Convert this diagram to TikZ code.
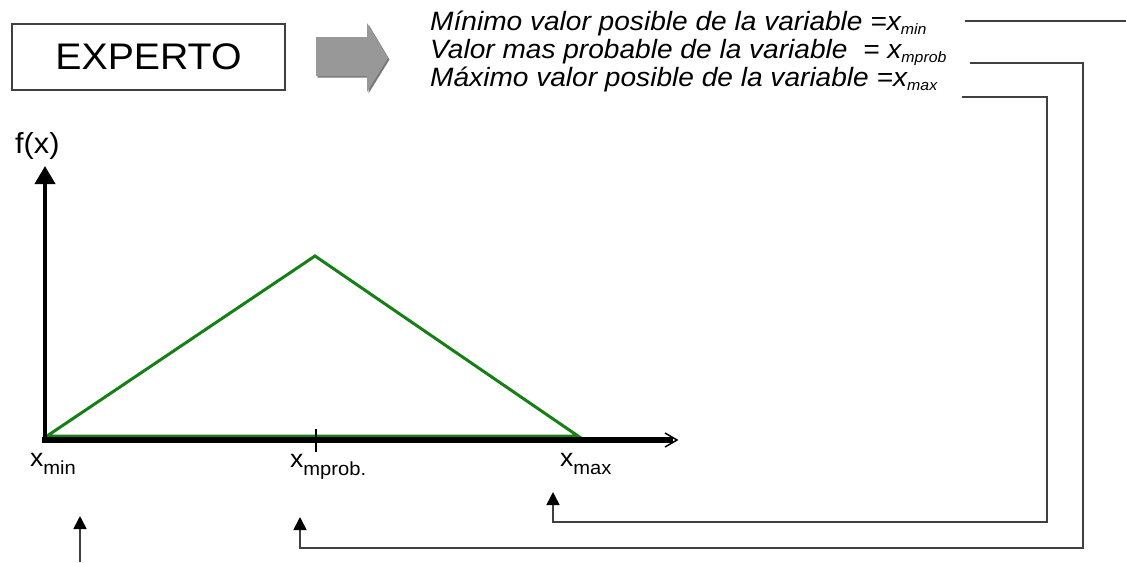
\documentclass[tikz,border=0pt]{standalone}
\usepackage{fontspec}
\setmainfont{Liberation Sans}[FakeStretch=1.06]
\usetikzlibrary{arrows.meta}

\definecolor{curvegreen}{RGB}{22,128,22}
\definecolor{blockgray}{RGB}{152,152,152}
\definecolor{blockshade}{RGB}{120,120,120}

\newcommand{\topsub}[1]{\raisebox{-4pt}{\fontsize{15}{15}\selectfont #1}}
\newcommand{\axsub}[1]{\raisebox{-8pt}{\fontsize{19}{19}\selectfont #1}}

\tikzset{
  note/.style={anchor=base west, inner sep=0pt, font=\fontsize{26.5}{28}\selectfont\itshape},
  axlabel/.style={anchor=base west, inner sep=0pt, font=\fontsize{25}{27}\selectfont},
  link/.style={line width=1.6pt, draw=black!75},
  linktip/.style={-{Triangle[length=13pt,width=13pt,color=black]}},
}

\begin{document}
\begin{tikzpicture}[x=1pt,y=-1pt]
    \useasboundingbox (0,0) rectangle (1126,562);

    % expert and block arrow
    \node[draw=black!75, line width=1.3pt, minimum width=273pt, minimum height=66pt,
          font=\fontsize{37}{40}\selectfont] (expert) at (148.5,57) {EXPERTO};
    \fill[blockshade] (317.5,38.5) -- (368.5,38.5) -- (368.5,24.5) -- (389.5,59.5) -- (368.5,93.5) -- (368.5,77.5) -- (317.5,77.5) -- cycle;
    \fill[blockgray] (316,37) -- (367,37) -- (367,23) -- (388,58) -- (367,92) -- (367,76) -- (316,76) -- cycle;

    % the three values
    \node[note] (lmin)  at (430,30) {Mínimo valor posible de la variable =x\topsub{min}};
    \node[note] (lprob) at (430,58) {Valor mas probable de la variable\ \ = x\topsub{mprob}};
    \node[note] (lmax)  at (430,86) {Máximo valor posible de la variable =x\topsub{max}};

    % axes
    \coordinate (O)    at (45,440);
    \coordinate (xend) at (677,440);
    \coordinate (yend) at (45,166);
    \coordinate (tmin) at (47,436);
    \coordinate (peak) at (315,256);
    \coordinate (tmax) at (578,436);

    \draw[curvegreen, line width=3pt] (tmin) -- (peak) -- (tmax) -- cycle;
    \draw[line width=4pt, -{Triangle[length=18pt,width=20pt]}] ([yshift=3pt]O) -- (yend);
    \draw[line width=6.5pt] ([xshift=-3pt]O) -- ([xshift=-4pt]xend);
    \draw[line width=1.5pt] ([shift={(-12,-7)}]xend) -- (xend) -- ([shift={(-12,7)}]xend);
    \draw[line width=1.3pt] (316,429) -- (316,452);

    \node[anchor=base west, inner sep=0pt, font=\fontsize{29}{31}\selectfont] (fx) at (15,153) {f(x)};
    \node[axlabel] (xmin)  at (30,466)  {x\axsub{min}};
    \node[axlabel] (xprob) at (290,467) {x\axsub{mprob.}};
    \node[axlabel] (xmax)  at (560,466) {x\axsub{max}};

    % links from the values down to the axis
    \coordinate (pmin)  at (965,21);
    \coordinate (emin)  at (1126,21);
    \coordinate (pprob) at (970,63);
    \coordinate (pmax)  at (962,97);
    \coordinate (bmin)  at (80,562);
    \coordinate (amin)  at (80,516);
    \coordinate (aprob) at (300,517);
    \coordinate (amax)  at (553,492);

    \draw[link] (pmin) -- (emin);
    \draw[link, linktip] (pprob) -| (1083,548) -| (aprob);
    \draw[link, linktip] (pmax) -| (1047,522) -| (amax);
    \draw[link, linktip] (bmin) -- (amin);
\end{tikzpicture}
\end{document}
